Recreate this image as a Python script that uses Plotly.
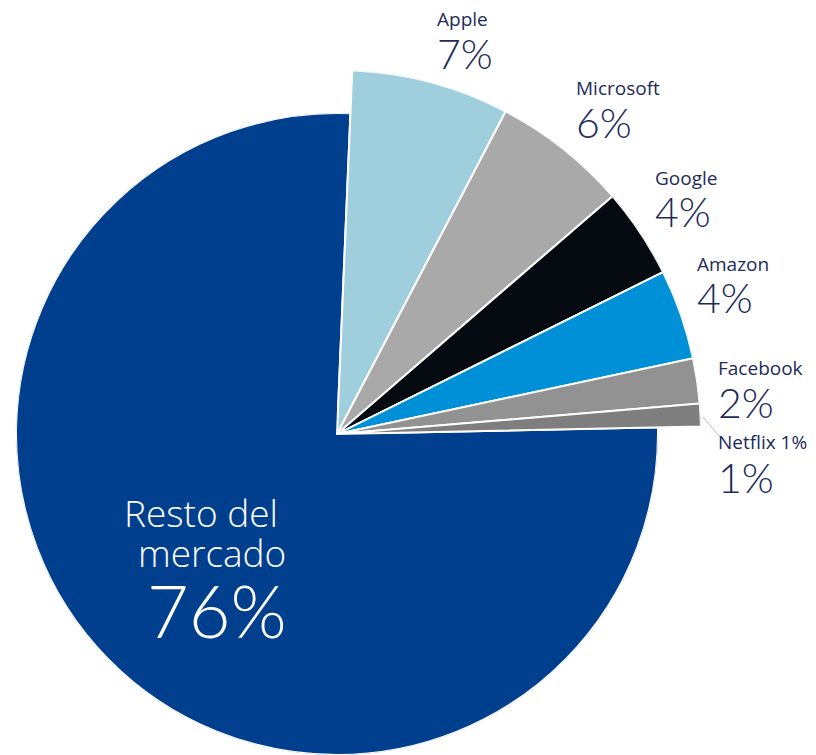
import plotly.graph_objects as go
import numpy as np

# Data (clockwise from 12 o'clock)
labels = ["Apple", "Microsoft", "Google", "Amazon", "Facebook", "Netflix", "Resto del mercado"]
values = [7, 6, 4, 4, 2, 1, 76]
colors = ["#9fcfdd", "#a9a9a9", "#050a10", "#0090d7", "#929292", "#7e7e7e", "#003f8e"]
name_text = ["Apple", "Microsoft", "Google", "Amazon", "Facebook", "Netflix 1%", "Resto del<br>mercado"]
pct_text = ["7%", "6%", "4%", "4%", "2%", "1%", "76%"]

W, H = 816, 755
CX, CY = 337, 434      # pie centre (px)
R_MAIN, R_OUT = 321, 364
START = 87.6           # screen angle where the first slice starts

vals = np.array(values, dtype=float)
deg = vals / vals.sum() * 360.0
ends = np.cumsum(deg)
centers = ends - deg / 2

small = [i for i, l in enumerate(labels) if l != "Resto del mercado"]
big = [i for i, l in enumerate(labels) if l == "Resto del mercado"]

fig = go.Figure()
fig.add_trace(go.Barpolar(
    r=[1 for _ in big], theta=[centers[i] for i in big], width=[deg[i] for i in big],
    marker=dict(color=[colors[i] for i in big], line=dict(color="white", width=2)),
    text=[labels[i] for i in big], hoverinfo="text", subplot="polar"))
fig.add_trace(go.Barpolar(
    r=[1 for _ in small], theta=[centers[i] for i in small], width=[deg[i] for i in small],
    marker=dict(color=[colors[i] for i in small], line=dict(color="white", width=2)),
    text=[labels[i] for i in small], hoverinfo="text", subplot="polar2"))

axis_off = dict(visible=False, showgrid=False, showline=False, showticklabels=False, ticks="")
ang = dict(axis_off, rotation=START, direction="clockwise")

fig.update_layout(
    width=W, height=H, margin=dict(l=0, r=0, t=0, b=0),
    paper_bgcolor="white", plot_bgcolor="white", showlegend=False,
    template="none",
    polar=dict(
        domain=dict(x=[(CX - R_MAIN) / W, (CX + R_MAIN) / W],
                    y=[max(0, (H - CY - R_MAIN) / H), (H - CY + R_MAIN) / H]),
        bgcolor="rgba(0,0,0,0)", radialaxis=dict(axis_off, range=[0, 1]),
        angularaxis=ang, bargap=0),
    polar2=dict(
        domain=dict(x=[CX / W, (CX + R_OUT) / W],
                    y=[(H - CY) / H, (H - CY + R_OUT) / H]),
        sector=[0, 90],
        bgcolor="rgba(0,0,0,0)", radialaxis=dict(axis_off, range=[0, 1]),
        angularaxis=ang, bargap=0),
)

TXT = "#1c2b5a"

def ann(text, x, y, size, color=TXT, xanchor="left", weight=300, family="Lato"):
    fig.add_annotation(text=text, x=x / W, y=1 - y / H, xref="paper", yref="paper",
                       xanchor=xanchor, yanchor="middle", showarrow=False, borderpad=0,
                       font=dict(family=family, size=size, color=color, weight=weight),
                       align="right")

# label positions (px): name at (x, y1), percentage at (x, y2)
label_pos = {
    "Apple": (436, 19, 53),
    "Microsoft": (575, 88, 123),
    "Google": (654, 178, 212),
    "Amazon": (696, 264, 298),
    "Facebook": (717, 368, 402),
    "Netflix": (717, 442, 477),
}
for i in small:
    x, y1, y2 = label_pos[labels[i]]
    ann(name_text[i], x, y1, 19, weight=400, family="Open Sans")
    ann(pct_text[i], x, y2, 41)

for i in big:
    ann("Resto del", 279, 512, 37, color="white", xanchor="right", family="Open Sans")
    ann("mercado", 287, 552, 37, color="white", xanchor="right", family="Open Sans")
    ann(pct_text[i], 288, 610, 72, color="white", xanchor="right")

# leader line for Netflix
fig.add_shape(type="line", xref="paper", yref="paper",
              x0=703 / W, y0=1 - 417 / H, x1=720 / W, y1=1 - 437 / H,
              line=dict(color="#b8bcc8", width=1))

fig.write_html("out.html", config={"displayModeBar": False},
               post_script="document.body.style.margin='0';document.body.style.padding='0';")
